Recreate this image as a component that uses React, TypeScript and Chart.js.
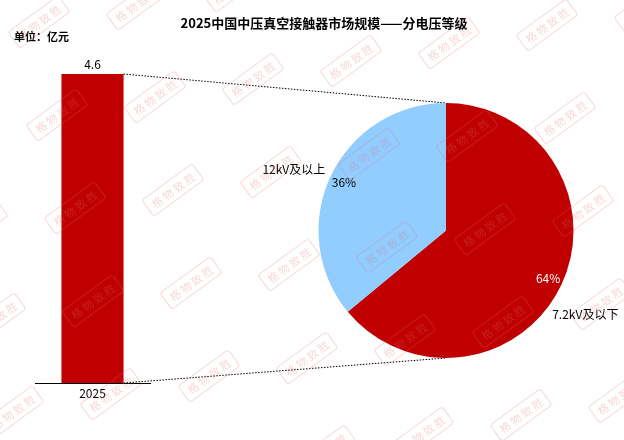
import { useEffect, useRef } from 'react';
import { Chart, registerables, type Plugin } from 'chart.js';

Chart.register(...registerables);

// data
const years = ['2025'];
const marketSize = [4.6];
const voltageLevels = ['7.2kV及以下', '12kV及以上'];
const voltageShares = [64, 36];

const RED = '#C00000';
const BLUE = '#92CDFF';
const FONT = '"Noto Sans CJK SC", "Noto Sans", sans-serif';
const TITLE = '2025中国中压真空接触器市场规模——分电压等级';
const UNIT = '单位：亿元';

// per-slice angle tweak (deg) for the outside category labels
const outerLabelNudge = [13, 1.5];

const barTexts: Plugin<'bar'> = {
  id: 'barTexts',
  afterDraw(chart) {
    const { ctx } = chart;
    ctx.save();
    ctx.fillStyle = '#000';
    ctx.textBaseline = 'middle';
    ctx.textAlign = 'center';
    ctx.font = `bold 13px ${FONT}`;
    ctx.fillText(TITLE, 324, 23);
    ctx.textAlign = 'left';
    ctx.font = `bold 11px ${FONT}`;
    ctx.fillText(UNIT, 14, 37);

    const meta = chart.getDatasetMeta(0);
    ctx.textAlign = 'center';
    ctx.font = `12px ${FONT}`;
    meta.data.forEach((el, i) => {
      const { x, y } = el.getProps(['x', 'y'], true);
      ctx.fillText(String(marketSize[i]), x, y - 10);
    });
    ctx.restore();
  },
};

export default function App() {
  const barRef = useRef<HTMLCanvasElement>(null);
  const pieRef = useRef<HTMLCanvasElement>(null);

  useEffect(() => {
    document.body.style.margin = '0';
    if (!barRef.current || !pieRef.current) return;

    const barChart = new Chart(barRef.current, {
      type: 'bar',
      data: {
        labels: years,
        datasets: [
          {
            data: marketSize,
            backgroundColor: RED,
            categoryPercentage: 0.54,
            barPercentage: 1,
          },
        ],
      },
      options: {
        animation: false,
        responsive: false,
        layout: { padding: { left: 35, right: 474, top: 74, bottom: 36.6 } },
        plugins: { legend: { display: false }, tooltip: { enabled: false } },
        scales: {
          x: {
            grid: { display: false, drawTicks: false },
            border: { color: '#000', width: 1 },
            ticks: { color: '#000', padding: 3, font: { family: FONT, size: 12 } },
          },
          y: { display: false, min: 0, max: 4.6 },
        },
      },
      plugins: [barTexts],
    });

    const connectors: Plugin<'pie'> = {
      id: 'connectors',
      beforeDatasetsDraw(chart) {
        const bar = barChart.getDatasetMeta(0).data[0] as any;
        const arc = chart.getDatasetMeta(0).data[0] as any;
        if (!bar || !arc) return;
        const right = bar.x + bar.width / 2;
        const { ctx } = chart;
        ctx.save();
        ctx.strokeStyle = '#000';
        ctx.lineWidth = 1;
        ctx.setLineDash([1.5, 1.5]);
        ctx.beginPath();
        ctx.moveTo(right, bar.y);
        ctx.lineTo(arc.x, arc.y - arc.outerRadius);
        ctx.moveTo(right, bar.base);
        ctx.lineTo(arc.x, arc.y + arc.outerRadius);
        ctx.stroke();
        ctx.restore();
      },
    };

    const pieLabels: Plugin<'pie'> = {
      id: 'pieLabels',
      afterDatasetsDraw(chart) {
        const { ctx } = chart;
        ctx.save();
        ctx.font = `12px ${FONT}`;
        ctx.textBaseline = 'middle';
        chart.getDatasetMeta(0).data.forEach((el: any, i) => {
          const mid = (el.startAngle + el.endAngle) / 2;
          const r = el.outerRadius;
          ctx.textAlign = 'center';
          ctx.fillStyle = i === 0 ? '#fff' : '#000';
          ctx.fillText(
            `${voltageShares[i]}%`,
            el.x + Math.cos(mid) * r * 0.885,
            el.y + Math.sin(mid) * r * 0.885,
          );
          const a = mid + (outerLabelNudge[i] * Math.PI) / 180;
          const ox = el.x + Math.cos(a) * r * 1.06;
          const oy = el.y + Math.sin(a) * r * 1.06;
          ctx.fillStyle = '#000';
          ctx.textAlign = Math.cos(a) >= 0 ? 'left' : 'right';
          ctx.fillText(voltageLevels[i], ox, oy);
        });
        ctx.restore();
      },
    };

    const watermark: Plugin<'pie'> = {
      id: 'watermark',
      afterDraw(chart) {
        const { ctx } = chart;
        ctx.save();
        ctx.strokeStyle = 'rgba(222, 110, 110, 0.27)';
        ctx.fillStyle = 'rgba(222, 110, 110, 0.27)';
        ctx.lineWidth = 1;
        ctx.font = `11px ${FONT}`;
        ctx.textAlign = 'center';
        ctx.textBaseline = 'middle';
        for (let i = -3; i <= 8; i++) {
          for (let j = -3; j <= 5; j++) {
            const x = 75 + 98 * i + 18 * j;
            const y = 208 - 18 * i + 93 * j;
            if (x < -40 || x > 664 || y < -30 || y > 470) continue;
            ctx.save();
            ctx.translate(x, y);
            ctx.rotate((-36 * Math.PI) / 180);
            ctx.beginPath();
            ctx.roundRect(-31, -10, 62, 20, 3);
            ctx.stroke();
            ['格', '物', '致', '胜'].forEach((ch, k) => {
              ctx.fillText(ch, -20 + k * 13.3, 0.5);
            });
            ctx.restore();
          }
        }
        ctx.restore();
      },
    };

    const pieChart = new Chart(pieRef.current, {
      type: 'pie',
      data: {
        labels: voltageLevels,
        datasets: [
          {
            data: voltageShares,
            backgroundColor: [RED, BLUE],
            borderWidth: 0,
          },
        ],
      },
      options: {
        animation: false,
        responsive: false,
        layout: { padding: { left: 318.5, right: 50.5, top: 103, bottom: 82 } },
        plugins: { legend: { display: false }, tooltip: { enabled: false } },
      },
      plugins: [connectors, pieLabels, watermark],
    });

    return () => {
      pieChart.destroy();
      barChart.destroy();
    };
  }, []);

  return (
    <div style={{ position: 'relative', width: 624, height: 440, background: '#fff' }}>
      <canvas ref={barRef} width={624} height={440} style={{ position: 'absolute', left: 0, top: 0 }} />
      <canvas ref={pieRef} width={624} height={440} style={{ position: 'absolute', left: 0, top: 0 }} />
    </div>
  );
}
